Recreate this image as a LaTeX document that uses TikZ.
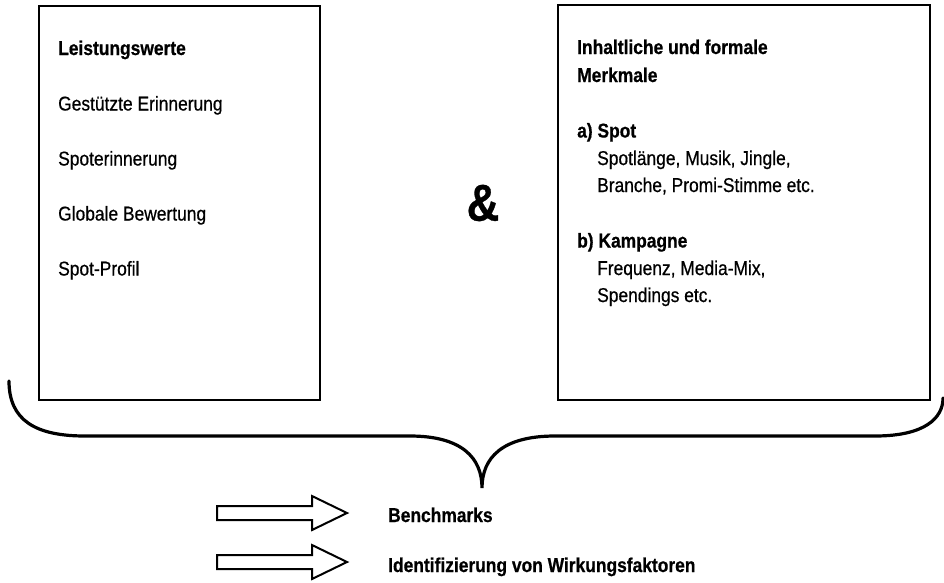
\documentclass[tikz,border=0pt]{standalone}
\usepackage{fontspec}
\setmainfont{Liberation Sans}[FakeStretch=0.87,UprightFeatures={FakeBold=0.6},BoldFeatures={FakeBold=0.6}]
\begin{document}
\begin{tikzpicture}[x=1pt,y=-1pt,
  box/.style={draw=black,line width=2pt},
  txt/.style={anchor=base west,inner sep=0pt,font=\fontsize{20}{22}\selectfont},
  btxt/.style={txt,font=\fontsize{20}{22}\selectfont\bfseries},
  brace/.style={draw=black,line width=3.2pt,line cap=round},
  blockarrow/.style={draw=black,line width=2pt,fill=white,line join=miter}]
\useasboundingbox (0,0) rectangle (944,582);
% boxes
\draw[box] (39,6) rectangle (320,400);
\draw[box] (558,5) rectangle (930,400);
% left texts
\node[btxt] (lw) at (58,55) {Leistungswerte};
\node[txt] (ge) at (58,110.5) {Gestützte Erinnerung};
\node[txt] (se) at (58,165.5) {Spoterinnerung};
\node[txt] (gb) at (58,220.5) {Globale Bewertung};
\node[txt] (sp) at (58,275.5) {Spot-Profil};
% right texts
\node[btxt] (im1) at (577,54) {Inhaltliche und formale};
\node[btxt] (im2) at (577,82) {Merkmale};
\node[btxt] (as) at (577,137.5) {a) Spot};
\node[txt] (as1) at (597,165) {Spotlänge, Musik, Jingle,};
\node[txt] (as2) at (597,192) {Branche, Promi-Stimme etc.};
\node[btxt] (bk) at (577,247.5) {b) Kampagne};
\node[txt] (bk1) at (597,275) {Frequenz, Media-Mix,};
\node[txt] (bk2) at (597,302) {Spendings etc.};
% ampersand
\node[inner sep=0pt,font=\fontsize{52}{54}\selectfont\bfseries] (amp) at (483,203) {\&};
% brace
\draw[brace] (9,381) .. controls (9,420) and (35,436) .. (85,436)
  -- (410,436) .. controls (462,436) and (482,458) .. (482,488)
  .. controls (482,458) and (502,436) .. (555,436)
  -- (875,436) .. controls (925,436) and (943,418) .. (943,398);
% block arrows
\draw[blockarrow] (217,506) -- (312,506) -- (312,496) -- (347,513) -- (312,530) -- (312,520) -- (217,520) -- cycle;
\draw[blockarrow] (217,555) -- (312,555) -- (312,545) -- (347,562) -- (312,579) -- (312,569) -- (217,569) -- cycle;
\node[btxt] (bm) at (388,522) {Benchmarks};
\node[btxt] (iw) at (388,572) {Identifizierung von Wirkungsfaktoren};
\end{tikzpicture}
\end{document}
